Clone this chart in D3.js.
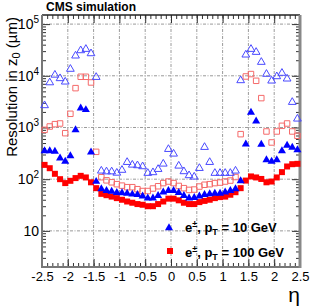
<!DOCTYPE html>
<html>
<head>
<meta charset="utf-8">
<script src="https://cdn.jsdelivr.net/npm/d3@7"></script>
<style>
body { margin: 0; background: #fff; }
svg { display: block; font-family: "Liberation Sans", Arial, Helvetica, sans-serif; }
</style>
</head>
<body>
<svg id="chart" width="324" height="308"></svg>
<script>
// eta bin centres
const eta = [-2.45, -2.35, -2.25, -2.15, -2.05, -1.95, -1.85, -1.75, -1.65, -1.55,
             -1.45, -1.35, -1.25, -1.15, -1.05, -0.95, -0.85, -0.75, -0.65, -0.55,
             -0.45, -0.35, -0.25, -0.15, -0.05, 0.05, 0.15, 0.25, 0.35, 0.45,
             0.55, 0.65, 0.75, 0.85, 0.95, 1.05, 1.15, 1.25, 1.35, 1.45,
             1.55, 1.65, 1.75, 1.85, 1.95, 2.05, 2.15, 2.25, 2.35, 2.45];

// e+-, pT = 10 GeV (filled triangles) and its open-marker companion
const pt10Filled = [353, 353, 343, 255, 220, 283, 900, 2370, 2200, 333,
                    90, 65, 60, 58, 55, 54, 53, 51, 50, 47,
                    43, 43, 48, 56, 60, 60, 55, 48, 43, 44,
                    47, 50, 52, 53, 53, 56, 60, 65, 93, 476,
                    1950, 1320, 470, 237, 220, 237, 353, 449, 410, 370];
const pt10Open = [2670, 7400, 10400, 8900, 7650, 13500, 24400, 30900, 32800, 27000,
                  9400, 145, 140, 140, 132, 150, 213, 189, 184, 176,
                  131, 135, 156, 198, 380, 309, 181, 141, 118, 111,
                  163, 416, 213, 131, 131, 131, 131, 145, 8130, 25500,
                  32800, 28700, 18400, 10800, 8000, 9700, 11300, 8750, 3090, 1470];

// e+-, pT = 100 GeV (filled squares) and its open-marker companion
const pt100Filled = [189, 163, 127, 100, 84, 93, 105, 116, 108, 87,
                     67, 52, 49, 46, 43, 40, 37, 35, 33, 32,
                     30, 30, 33, 37, 42, 42, 39, 35, 33, 33,
                     36, 38, 40, 43, 45, 46, 50, 56, 67, 94,
                     113, 108, 101, 87, 90, 108, 137, 176, 195, 198];
const pt100Open = [900, 1045, 1160, 1195, 776, 1840, 5770, 9570, 9570, 7430,
                   338, 109, 95, 87, 80, 75, 70, 70, 64, 59,
                   59, 66, 73, 84, 90, 84, 74, 67, 62, 63,
                   72, 78, 80, 84, 86, 90, 94, 110, 743, 9700,
                   10800, 8000, 3700, 837, 513, 837, 1077, 1195, 837, 690];

const xTicks = [-2.5, -2, -1.5, -1, -0.5, 0, 0.5, 1, 1.5, 2, 2.5];
const xTickLabels = ["-2.5", "-2", "-1.5", "-1", "-0.5", "0", "0.5", "1", "1.5", "2", "2.5"];
const yDecades = [10, 100, 1000, 10000, 100000];
const yExponents = ["", "2", "3", "4", "5"];

const svg = d3.select("#chart");
const pLeft = 42, pRight = 300, pTop = 15, pBottom = 267;

const x = d3.scaleLinear().domain([-2.5, 2.5]).range([pLeft, pRight]);
const y = d3.scaleLog().domain([2, 1.5e5]).range([pBottom, pTop]);

// grid
const grid = svg.append("g")
    .attr("stroke", "#9a9a9a")
    .attr("stroke-width", 1)
    .attr("stroke-dasharray", "3,1.5,1,1.5");
xTicks.slice(1, -1).forEach(t => {
    grid.append("line")
        .attr("x1", x(t)).attr("x2", x(t))
        .attr("y1", pTop).attr("y2", pBottom);
});
yDecades.forEach(t => {
    grid.append("line")
        .attr("x1", pLeft).attr("x2", pRight)
        .attr("y1", y(t)).attr("y2", y(t));
});

// tick values
const xMinor = d3.range(-25, 26).map(d => d / 10);
const yMinor = [];
[1, 10, 100, 1000, 10000, 100000].forEach(dec => {
    for (let m = 2; m <= 9; m++) {
        const v = dec * m;
        if (v >= 2 && v <= 1.5e5) yMinor.push(v);
    }
});

const styleAxis = g => {
    g.select(".domain").remove();
    g.selectAll(".tick line").attr("stroke", "#333");
};

svg.append("g").attr("transform", `translate(0,${pBottom})`)
    .call(d3.axisBottom(x).tickValues(xMinor).tickSize(-4).tickFormat(""))
    .call(styleAxis);
svg.append("g").attr("transform", `translate(0,${pBottom})`)
    .call(d3.axisBottom(x).tickValues(xTicks).tickSize(-8).tickPadding(5)
        .tickFormat((d, i) => xTickLabels[i]))
    .call(styleAxis)
    .call(g => g.selectAll("text").attr("font-size", 13).attr("fill", "#000")
        .attr("font-family", "Liberation Sans, Arial, sans-serif"));
svg.append("g").attr("transform", `translate(0,${pTop})`)
    .call(d3.axisTop(x).tickValues(xMinor).tickSize(-4).tickFormat(""))
    .call(styleAxis);
svg.append("g").attr("transform", `translate(0,${pTop})`)
    .call(d3.axisTop(x).tickValues(xTicks).tickSize(-8).tickFormat(""))
    .call(styleAxis);

svg.append("g").attr("transform", `translate(${pLeft},0)`)
    .call(d3.axisLeft(y).tickValues(yMinor).tickSize(-4).tickFormat(""))
    .call(styleAxis);
svg.append("g").attr("transform", `translate(${pLeft},0)`)
    .call(d3.axisLeft(y).tickValues(yDecades).tickSize(-8).tickFormat(""))
    .call(styleAxis);
svg.append("g").attr("transform", `translate(${pRight},0)`)
    .call(d3.axisRight(y).tickValues(yMinor).tickSize(-4).tickFormat(""))
    .call(styleAxis);
svg.append("g").attr("transform", `translate(${pRight},0)`)
    .call(d3.axisRight(y).tickValues(yDecades).tickSize(-8).tickFormat(""))
    .call(styleAxis);

// y tick labels 10, 10^2 ...
yDecades.forEach((v, i) => {
    const t = svg.append("text")
        .attr("x", 39)
        .attr("y", y(v) + 5)
        .attr("text-anchor", "end")
        .attr("font-size", 14)
        .attr("fill", "#000");
    t.append("tspan").text("10");
    if (yExponents[i]) {
        t.append("tspan").attr("dy", -6).attr("font-size", 10).text(yExponents[i]);
    }
});

// frame
svg.append("line").attr("x1", pLeft).attr("x2", pRight).attr("y1", pTop).attr("y2", pTop)
    .attr("stroke", "#222").attr("stroke-width", 1.5);
svg.append("line").attr("x1", pLeft).attr("x2", pLeft).attr("y1", pTop).attr("y2", pBottom + 1)
    .attr("stroke", "#777").attr("stroke-width", 2);
svg.append("line").attr("x1", pLeft).attr("x2", pRight).attr("y1", pBottom).attr("y2", pBottom)
    .attr("stroke", "#777").attr("stroke-width", 2);
svg.append("line").attr("x1", pRight).attr("x2", pRight).attr("y1", pTop).attr("y2", pBottom + 1)
    .attr("stroke", "#888").attr("stroke-width", 3);

// markers
const tri = d3.symbol().type(d3.symbolTriangle).size(26);
const sq = d3.symbol().type(d3.symbolSquare).size(30);

const drawSeries = (values, path, fill, stroke) => {
    svg.append("g").selectAll("path")
        .data(values)
        .join("path")
        .attr("d", path)
        .attr("transform", (d, i) => `translate(${x(eta[i])},${y(d)})`)
        .attr("fill", fill)
        .attr("stroke", stroke)
        .attr("stroke-width", 1);
};

drawSeries(pt100Open, sq, "none", "#f56a6a");
drawSeries(pt10Open, tri, "none", "#4a4aff");
drawSeries(pt100Filled, d3.symbol().type(d3.symbolSquare).size(36), "#ff0000", "none");
drawSeries(pt10Filled, d3.symbol().type(d3.symbolTriangle).size(28), "#0000ff", "none");

// legend
const legend = svg.append("g");
legend.append("path").attr("d", d3.symbol().type(d3.symbolTriangle).size(28))
    .attr("transform", "translate(169,228)").attr("fill", "#0000ff");
legend.append("path").attr("d", d3.symbol().type(d3.symbolSquare).size(36))
    .attr("transform", "translate(170,251)").attr("fill", "#ff0000");

const legendText = (ty, energy) => {
    const t = legend.append("text")
        .attr("x", 185).attr("y", ty)
        .attr("font-size", 13).attr("font-weight", "bold").attr("fill", "#000");
    t.append("tspan").text("e");
    t.append("tspan").attr("dy", -5).attr("font-size", 9).text("±");
    t.append("tspan").attr("dy", 5).text(", p");
    t.append("tspan").attr("dy", 3).attr("font-size", 9).text("T");
    t.append("tspan").attr("dy", -3).text(` = ${energy} GeV`);
};
legendText(232, 10);
legendText(257, 100);

// titles
svg.append("text")
    .attr("x", 46).attr("y", 11)
    .attr("font-size", 12).attr("font-weight", "bold")
    .text("CMS simulation");

svg.append("text")
    .attr("x", pRight).attr("y", 302)
    .attr("text-anchor", "end")
    .attr("font-size", 21)
    .text("η");

const yt = svg.append("text")
    .attr("transform", "translate(17,17) rotate(-90)")
    .attr("text-anchor", "end")
    .attr("font-size", 15);
yt.append("tspan").text("Resolution in z");
yt.append("tspan").attr("dy", 3).attr("font-size", 11).text("0");
yt.append("tspan").attr("dy", -3).text(" (µm)");
</script>
</body>
</html>
